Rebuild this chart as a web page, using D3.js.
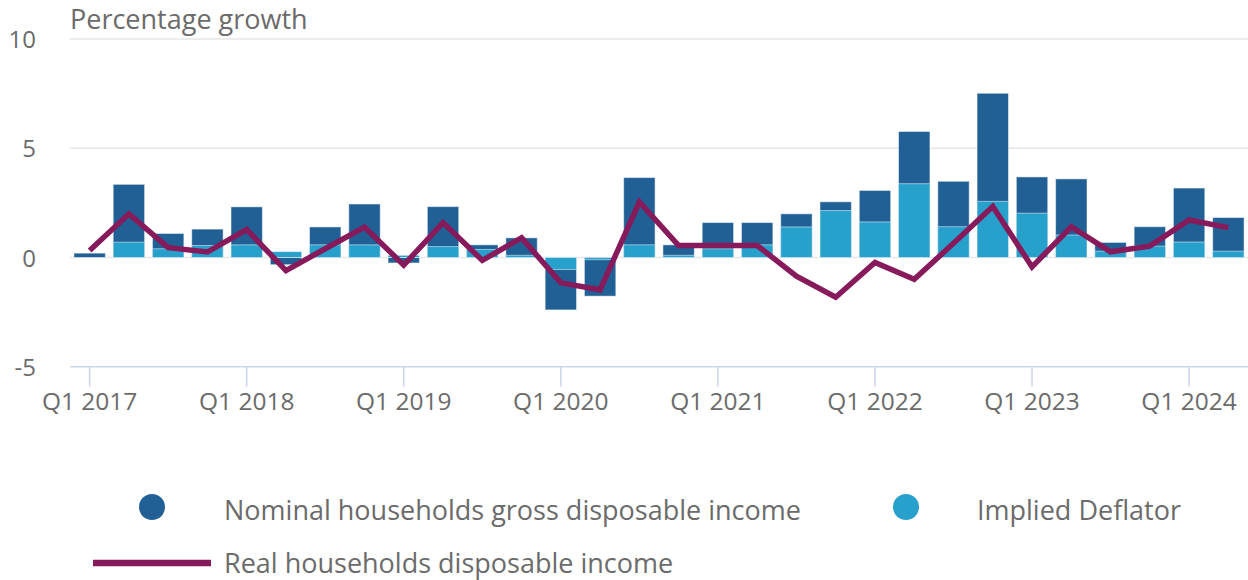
<!DOCTYPE html>
<html>
<head>
<meta charset="utf-8">
<script src="https://cdn.jsdelivr.net/npm/d3@7"></script>
<style>
  body { margin: 0; background: #fff; }
  svg { font-family: "Open Sans", "Noto Sans", sans-serif; }
</style>
</head>
<body>
<div id="chart"></div>
<script>
// Household income growth - overlapping bars with real income line

const quarters = [];
for (let y = 2017; y <= 2024; y++) {
  for (let q = 1; q <= 4; q++) {
    if (y === 2024 && q > 2) break;
    quarters.push(`Q${q} ${y}`);
  }
}

const nominal  = [0.2, 3.35, 1.1, 1.3, 2.32, -0.33, 1.4, 2.45, -0.25, 2.33, 0.58, 0.9, -2.4, -1.77, 3.66, 0.58, 1.6, 1.6, 2.0, 2.55, 3.07, 5.77, 3.49, 7.52, 3.69, 3.6, 0.69, 1.41, 3.18, 1.83];
const deflator = [0.0, 0.7, 0.4, 0.55, 0.58, 0.27, 0.58, 0.58, 0.1, 0.5, 0.37, 0.1, -0.55, -0.1, 0.58, 0.1, 0.4, 0.58, 1.4, 2.15, 1.63, 3.38, 1.41, 2.57, 2.03, 1.03, 0.29, 0.52, 0.71, 0.29];
const real     = [0.32, 2.0, 0.45, 0.25, 1.28, -0.6, 0.4, 1.39, -0.35, 1.6, -0.13, 0.9, -1.16, -1.48, 2.54, 0.55, 0.55, 0.55, -0.85, -1.82, -0.23, -1.0, 0.65, 2.34, -0.43, 1.41, 0.26, 0.52, 1.72, 1.37];

const yTicks = [-5, 0, 5, 10];
const xTickLabels = quarters.filter(q => q.startsWith('Q1'));

const colNominal = '#206095';
const colDeflator = '#27a0cc';
const colReal = '#871a5b';
const textCol = '#6b6b6b';

const W = 1248, H = 580;
const svg = d3.select('#chart').append('svg')
  .attr('width', W)
  .attr('height', H);

const x = d3.scaleBand().domain(quarters).range([70, 1248]).paddingInner(0.2).paddingOuter(0.1);
const y = d3.scaleLinear().domain([-5, 10]).range([366.7, 39.1]);

// gridlines
svg.append('g').selectAll('line')
  .data(yTicks.filter(d => d !== -5))
  .join('line')
  .attr('x1', 70).attr('x2', W)
  .attr('y1', d => y(d)).attr('y2', d => y(d))
  .attr('stroke', '#e6e6e6')
  .attr('stroke-width', 1.5);

// y labels
svg.append('g').selectAll('text')
  .data(yTicks)
  .join('text')
  .attr('x', 36)
  .attr('y', d => y(d) + 9)
  .attr('text-anchor', 'end')
  .attr('fill', textCol)
  .attr('font-size', '24px')
  .text(d => d);

svg.append('text')
  .attr('x', 70)
  .attr('y', 29)
  .attr('fill', textCol)
  .attr('font-size', '27px')
  .text('Percentage growth');

// x axis
const xAxis = svg.append('g')
  .attr('transform', `translate(0,${y(-5)})`)
  .call(d3.axisBottom(x).tickValues(xTickLabels).tickSize(20).tickPadding(6).tickSizeOuter(0));
xAxis.select('.domain').attr('d', `M70,0H${W}`).attr('stroke', '#ccd6eb').attr('stroke-width', 1.5);
xAxis.selectAll('.tick line').attr('stroke', '#ccd6eb').attr('stroke-width', 1.5);
xAxis.selectAll('.tick text')
  .attr('fill', textCol)
  .attr('font-size', '24.5px')
  .attr('font-family', '"Open Sans", "Noto Sans", sans-serif');

// bars: nominal behind, deflator overlapping from zero
const bw = x.bandwidth();
svg.append('g').selectAll('rect')
  .data(quarters)
  .join('rect')
  .attr('x', d => x(d))
  .attr('width', bw)
  .attr('y', (d, i) => y(Math.max(0, nominal[i])))
  .attr('height', (d, i) => Math.abs(y(nominal[i]) - y(0)))
  .attr('fill', colNominal)
  .attr('stroke', 'rgba(255,255,255,0.5)')
  .attr('stroke-width', 1);

svg.append('g').selectAll('rect')
  .data(quarters)
  .join('rect')
  .attr('x', d => x(d))
  .attr('width', bw)
  .attr('y', (d, i) => y(Math.max(0, deflator[i])))
  .attr('height', (d, i) => Math.abs(y(deflator[i]) - y(0)))
  .attr('fill', colDeflator)
  .attr('stroke', 'rgba(255,255,255,0.5)')
  .attr('stroke-width', 1);

// real income line
const line = d3.line()
  .x((d, i) => x(quarters[i]) + bw / 2)
  .y(d => y(d));

svg.append('path')
  .datum(real)
  .attr('d', line)
  .attr('fill', 'none')
  .attr('stroke', colReal)
  .attr('stroke-width', 5.5)
  .attr('stroke-linejoin', 'miter');

// legend
const legend = svg.append('g').attr('font-size', '27px').attr('fill', textCol);

legend.append('circle').attr('cx', 152).attr('cy', 507).attr('r', 13).attr('fill', colNominal);
legend.append('text').attr('x', 224).attr('y', 520).text('Nominal households gross disposable income');

legend.append('circle').attr('cx', 906).attr('cy', 507).attr('r', 13).attr('fill', colDeflator);
legend.append('text').attr('x', 977).attr('y', 520).text('Implied Deflator');

legend.append('line')
  .attr('x1', 93).attr('x2', 211)
  .attr('y1', 563).attr('y2', 563)
  .attr('stroke', colReal)
  .attr('stroke-width', 6.5);
legend.append('text').attr('x', 224).attr('y', 573).text('Real households disposable income');
</script>
</body>
</html>
